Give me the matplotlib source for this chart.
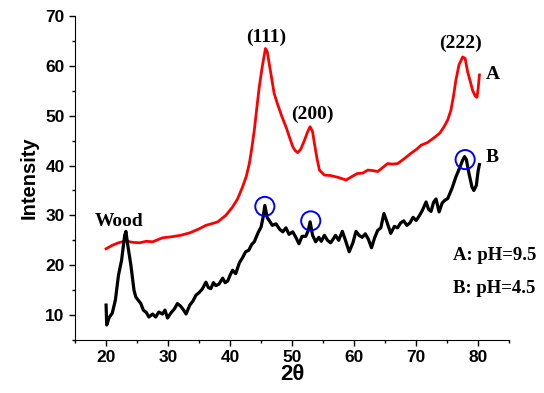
import matplotlib
matplotlib.use("Agg")
import matplotlib.pyplot as plt
from matplotlib.ticker import MultipleLocator

# curve A (pH=9.5), red
x_a = [20.0, 21.0, 22.0, 23.2, 24.2, 25.4, 26.5, 27.5, 29.1, 30.5, 32.0, 33.5,
       35.0, 36.1, 37.2, 38.0, 39.3, 40.4, 41.2, 42.0, 42.6, 43.1, 43.5, 43.9,
       44.3, 44.7, 45.2, 45.7, 46.0, 46.3, 46.7, 47.1, 47.6, 48.3, 49.0, 49.6,
       50.1, 50.5, 50.9, 51.4, 52.0, 52.5, 52.9, 53.3, 53.6, 54.0, 54.4, 55.2,
       56.2, 57.5, 58.7, 59.5, 60.5, 61.4, 62.2, 63.0, 63.8, 64.6, 65.4, 66.2,
       67.0, 68.0, 69.1, 70.2, 70.8, 71.8, 72.9, 73.8, 74.5, 75.1, 75.6, 76.0,
       76.4, 76.9, 77.5, 77.9, 78.3, 78.7, 79.1, 79.5, 79.8, 80.0, 80.2]
y_a = [23.3, 24.0, 24.5, 24.9, 24.6, 24.5, 24.8, 24.7, 25.5, 25.7, 26.0, 26.5,
       27.3, 28.0, 28.4, 28.7, 30.0, 31.7, 33.3, 35.7, 37.8, 40.4, 43.5, 47.1,
       51.5, 55.8, 60.0, 63.5, 62.8, 60.5, 57.5, 54.5, 52.5, 50.0, 47.8, 45.6,
       43.8, 43.0, 42.6, 43.3, 45.1, 46.8, 47.8, 46.8, 44.4, 41.5, 39.1, 38.1,
       38.0, 37.6, 37.1, 37.7, 38.4, 38.5, 39.1, 39.0, 38.8, 39.6, 40.4, 40.3,
       40.4, 41.3, 42.4, 43.4, 44.1, 44.6, 45.6, 46.5, 47.8, 49.2, 51.1, 53.8,
       57.1, 60.2, 61.8, 61.5, 58.8, 57.0, 55.1, 54.0, 53.7, 55.5, 58.2]

# curve B (pH=4.5), black
x_b = [20.0, 20.1, 20.5, 21.0, 21.5, 22.0, 22.5, 23.0, 23.2, 23.5, 24.0, 24.5,
       24.8, 25.3, 25.6, 26.0, 26.5, 26.9, 27.5, 28.0, 28.5, 29.1, 29.5, 29.9,
       30.5, 31.0, 31.5, 32.0, 32.5, 32.9, 33.5, 34.0, 34.5, 35.0, 35.5, 36.1,
       36.5, 36.9, 37.3, 37.7, 38.2, 38.8, 39.2, 39.6, 40.0, 40.4, 40.9, 41.5,
       42.0, 42.5, 43.0, 43.5, 43.9, 44.5, 45.0, 45.3, 45.6, 46.0, 46.3, 46.8,
       47.4, 48.0, 48.5, 49.0, 49.5, 50.1, 50.6, 51.1, 51.6, 52.2, 52.6, 52.9,
       53.3, 53.8, 54.3, 54.7, 55.2, 55.7, 56.2, 56.6, 57.0, 57.5, 58.1, 58.6,
       59.2, 59.8, 60.3, 60.8, 61.3, 61.8, 62.3, 62.8, 63.3, 63.8, 64.3, 64.8,
       65.2, 65.9, 66.5, 67.0, 67.5, 68.0, 68.5, 69.0, 69.5, 70.0, 70.4, 71.0,
       71.6, 72.0, 72.4, 72.8, 73.2, 73.7, 74.2, 74.6, 75.1, 75.8, 76.4, 77.0,
       77.5, 77.8, 78.1, 78.5, 79.0, 79.3, 79.7, 80.0, 80.2]
y_b = [12.0, 8.0, 9.5, 10.4, 13.0, 18.0, 21.0, 26.0, 26.8, 24.0, 20.0, 15.0,
       13.6, 12.8, 12.3, 11.0, 10.5, 9.6, 10.2, 9.6, 10.6, 10.2, 11.0, 9.4,
       10.5, 11.2, 12.3, 11.8, 11.0, 10.2, 12.0, 12.8, 14.0, 14.5, 15.2, 16.6,
       15.5, 15.3, 16.5, 15.9, 16.2, 17.4, 16.5, 16.8, 18.0, 19.0, 18.3, 20.5,
       21.5, 22.7, 23.0, 24.2, 24.7, 26.5, 27.7, 29.5, 32.0, 29.5, 29.0, 28.0,
       28.3, 27.2, 26.7, 27.5, 26.2, 26.7, 25.6, 24.3, 25.8, 25.8, 27.0, 28.7,
       26.0, 24.7, 25.6, 24.8, 26.0, 25.0, 24.5, 25.2, 26.0, 25.0, 26.8, 25.0,
       22.7, 24.5, 26.8, 26.0, 25.6, 26.3, 25.2, 23.5, 25.5, 27.0, 27.5, 30.4,
       29.0, 26.4, 27.8, 27.5, 28.5, 28.9, 28.0, 28.5, 29.6, 29.0, 29.7, 31.0,
       32.7, 31.2, 30.8, 32.6, 33.3, 30.7, 32.5, 33.0, 33.4, 35.5, 37.7, 39.5,
       41.1, 41.8, 41.2, 38.5, 35.7, 35.0, 36.0, 39.0, 40.2]

# circled peaks on B
circle_x = [45.6, 53.0, 77.9]
circle_y = [31.8, 28.9, 41.2]

# peak labels
peak_labels = ["(111)", "(200)", "(222)"]
peak_lx = [45.8, 53.3, 77.2]
peak_ly = [65.8, 50.3, 64.5]

fig = plt.figure(figsize=(5.44, 3.93), dpi=100)
ax = fig.add_axes([0.138, 0.135, 0.798, 0.824])

ax.plot(x_a, y_a, color="red", lw=2.0)
ax.plot(x_b, y_b, color="black", lw=2.3)
ax.scatter(circle_x, circle_y, s=190, facecolors="none", edgecolors="blue", linewidths=1.4, zorder=3)

serif = dict(family="Liberation Serif", weight="bold")
for lab, lx, ly in zip(peak_labels, peak_lx, peak_ly):
    ax.text(lx, ly, lab, ha="center", va="center", fontsize=14, **serif)
ax.text(82.4, 58.2, "A", ha="center", va="center", fontsize=14, **serif)
ax.text(82.2, 41.7, "B", ha="center", va="center", fontsize=14, **serif)
ax.text(22.1, 28.8, "Wood", ha="center", va="center", fontsize=14, **serif)
ax.text(76.0, 22.0, "A: pH=9.5", ha="left", va="center", fontsize=13.5, **serif)
ax.text(76.0, 15.4, "B: pH=4.5", ha="left", va="center", fontsize=13.5, **serif)

ax.set_xlim(15, 85)
ax.set_ylim(5, 70)
ax.xaxis.set_major_locator(MultipleLocator(10))
ax.xaxis.set_minor_locator(MultipleLocator(5))
ax.yaxis.set_major_locator(MultipleLocator(10))
ax.yaxis.set_minor_locator(MultipleLocator(5))
ax.spines["top"].set_visible(False)
ax.spines["right"].set_visible(False)
ax.tick_params(which="major", direction="out", length=4, width=1)
ax.tick_params(which="minor", direction="out", length=2.5, width=1)
for lbl in ax.get_xticklabels() + ax.get_yticklabels():
    lbl.set_family("Liberation Sans")
    lbl.set_fontweight("bold")
    lbl.set_fontsize(12.5)

ax.set_xlabel("2θ", family="Liberation Sans", fontweight="bold", fontsize=16, labelpad=-1)
ax.set_ylabel("Intensity", family="Liberation Sans", fontweight="bold", fontsize=14.5, labelpad=5)

fig.savefig("out.png", dpi=100)
